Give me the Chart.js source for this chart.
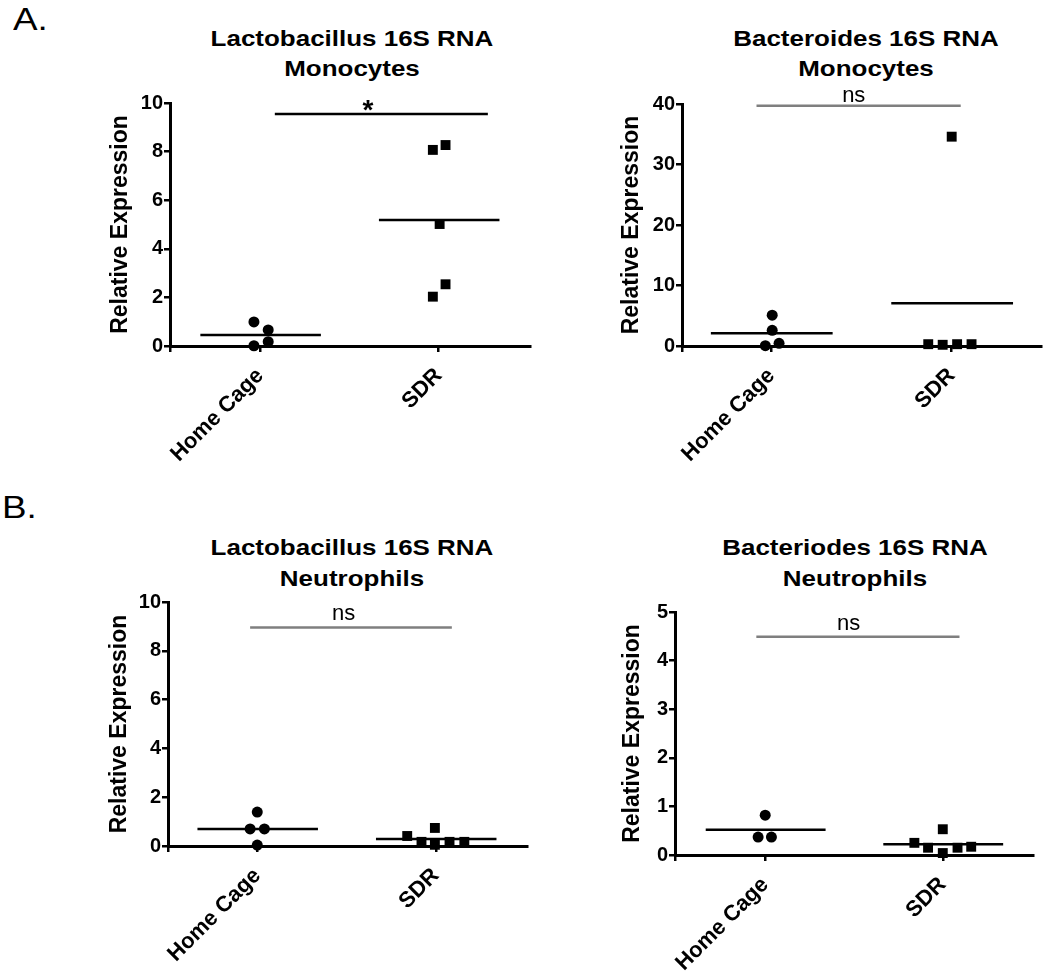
<!DOCTYPE html>
<html>
<head>
<meta charset="utf-8">
<script src="https://cdn.jsdelivr.net/npm/chart.js@4.4.0/dist/chart.umd.min.js"></script>
<style>
  html, body { margin:0; padding:0; background:#fff; width:1050px; height:975px; overflow:hidden;
    font-family:"Liberation Sans", Arial, Helvetica, sans-serif; color:#000; }
  .box { position:absolute; }
  .title { position:absolute; width:400px; text-align:center; font-weight:bold; font-size:22px;
    transform:scaleX(1.18); transform-origin:center top; white-space:nowrap; }
  .tag { position:absolute; font-size:32px; line-height:32px; transform:scaleX(1.15); transform-origin:left top; }
</style>
</head>
<body>
<script>
// ---------------- DATA ----------------
const categories = ['Home Cage', 'SDR'];
const yAxisTitle = 'Relative Expression';
const panelTags = ['A.', 'B.'];

// A (left): Lactobacillus 16S RNA, Monocytes
const lactoMonoTitle = ['Lactobacillus 16S RNA', 'Monocytes'];
const lactoMonoHomeCage = [0.99, 0.66, 0.18, 0.01];
const lactoMonoHomeCageX = [-0.035, 0.045, 0.045, -0.035];
const lactoMonoSDR = [8.07, 8.27, 5.02, 2.54, 2.03];
const lactoMonoSDRX = [0.967, 1.038, 1.005, 1.038, 0.967];
const lactoMonoMeans = [0.45, 5.19];
const lactoMonoYTicks = [0, 2, 4, 6, 8, 10];
const lactoMonoSig = { label: '*', y: 9.55, from: 0.082, to: 1.275, labelX: 0.604 };

// A (right): Bacteroides 16S RNA, Monocytes
const bactMonoTitle = ['Bacteroides 16S RNA', 'Monocytes'];
const bactMonoHomeCage = [5.1, 2.6, 0.05, 0.45];
const bactMonoHomeCageX = [0.005, 0.005, -0.033, 0.043];
const bactMonoSDR = [34.6, 0.3, 0.2, 0.3, 0.3];
const bactMonoSDRX = [1.0, 0.87, 0.95, 1.03, 1.11];
const bactMonoMeans = [2.1, 7.05];
const bactMonoYTicks = [0, 10, 20, 30, 40];
const bactMonoSig = { label: 'ns', y: 39.7, from: -0.082, to: 1.05, labelX: 0.457 };

// B (left): Lactobacillus 16S RNA, Neutrophils
const lactoNeutTitle = ['Lactobacillus 16S RNA', 'Neutrophils'];
const lactoNeutHomeCage = [1.39, 0.7, 0.7, 0.04];
const lactoNeutHomeCageX = [0, -0.04, 0.04, 0];
const lactoNeutSDR = [0.41, 0.17, 0.74, 0.05, 0.17, 0.17];
const lactoNeutSDRX = [0.84, 0.92, 0.995, 0.995, 1.077, 1.16];
const lactoNeutMeans = [0.7, 0.29];
const lactoNeutYTicks = [0, 2, 4, 6, 8, 10];
const lactoNeutSig = { label: 'ns', y: 8.96, from: -0.04, to: 1.09, labelX: 0.484 };

// B (right): Bacteriodes 16S RNA, Neutrophils
const bactNeutTitle = ['Bacteriodes 16S RNA', 'Neutrophils'];
const bactNeutHomeCage = [0.82, 0.37, 0.37];
const bactNeutHomeCageX = [0, -0.04, 0.035];
const bactNeutSDR = [0.25, 0.15, 0.53, 0.04, 0.15, 0.17];
const bactNeutSDRX = [0.84, 0.917, 1.0, 1.0, 1.083, 1.16];
const bactNeutMeans = [0.52, 0.22];
const bactNeutYTicks = [0, 1, 2, 3, 4, 5];
const bactNeutSig = { label: 'ns', y: 4.49, from: -0.05, to: 1.094, labelX: 0.47 };

// ---------------- LAYOUT / STYLE ----------------
const FONT = '"Liberation Sans", Arial, Helvetica, sans-serif';
Chart.defaults.font.family = FONT;
Chart.defaults.color = '#000';
const meanSpan = [[-0.335, 0.34], [0.665, 1.34]];

const panels = [
  { title: lactoMonoTitle, hc: lactoMonoHomeCage, hcX: lactoMonoHomeCageX, sdr: lactoMonoSDR, sdrX: lactoMonoSDRX,
    means: lactoMonoMeans, yTicks: lactoMonoYTicks, sig: lactoMonoSig,
    box: { left:107, top:85, w:430, h:391, pt:18, yw:63, xh:130, xMin:-0.505, xMax:1.511 },
    sigColor:'#000', labelFont:'bold 28px ' + FONT, labelDy:5,
    titlePos: { cx:352, top:24.4, lh:29.3 } },
  { title: bactMonoTitle, hc: bactMonoHomeCage, hcX: bactMonoHomeCageX, sdr: bactMonoSDR, sdrX: bactMonoSDRX,
    means: bactMonoMeans, yTicks: bactMonoYTicks, sig: bactMonoSig,
    box: { left:618, top:85, w:430, h:391, pt:19, yw:64, xh:130, xMin:-0.495, xMax:1.495 },
    sigColor:'#7f7f7f', labelFont:'22px ' + FONT, labelDy:-4,
    titlePos: { cx:866, top:24.4, lh:29.3 } },
  { title: lactoNeutTitle, hc: lactoNeutHomeCage, hcX: lactoNeutHomeCageX, sdr: lactoNeutSDR, sdrX: lactoNeutSDRX,
    means: lactoNeutMeans, yTicks: lactoNeutYTicks, sig: lactoNeutSig,
    box: { left:106, top:585, w:428, h:386, pt:17, yw:62, xh:125, xMin:-0.5, xMax:1.511 },
    sigColor:'#7f7f7f', labelFont:'22px ' + FONT, labelDy:-7,
    titlePos: { cx:352, top:531.5, lh:31.7 } },
  { title: bactNeutTitle, hc: bactNeutHomeCage, hcX: bactNeutHomeCageX, sdr: bactNeutSDR, sdrX: bactNeutSDRX,
    means: bactNeutMeans, yTicks: bactNeutYTicks, sig: bactNeutSig,
    box: { left:619, top:590, w:421, h:383, pt:22, yw:56, xh:118, xMin:-0.508, xMax:1.508 },
    sigColor:'#7f7f7f', labelFont:'22px ' + FONT, labelDy:-7,
    titlePos: { cx:855, top:531.5, lh:31.7 } }
];

const sigLabelPlugin = {
  id: 'sigLabel',
  afterDatasetsDraw(chart, args, opts) {
    if (!opts || !opts.text) return;
    const ctx = chart.ctx, xs = chart.scales.x, ys = chart.scales.y;
    ctx.save();
    ctx.fillStyle = '#000';
    ctx.font = opts.cssFont;
    ctx.textAlign = 'center';
    ctx.textBaseline = 'alphabetic';
    ctx.fillText(opts.text, xs.getPixelForValue(opts.xValue), ys.getPixelForValue(opts.yValue) + opts.dy);
    ctx.restore();
  }
};

function zeroPad(s) { s.paddingLeft = 0; s.paddingRight = 0; s.paddingTop = 0; s.paddingBottom = 0; }

// tags
[[panelTags[0], 13, 3], [panelTags[1], 2, 491]].forEach(([t, l, tp]) => {
  const d = document.createElement('div'); d.className = 'tag'; d.textContent = t;
  d.style.left = l + 'px'; d.style.top = tp + 'px'; document.body.appendChild(d);
});

panels.forEach(p => {
  // title
  const t = document.createElement('div'); t.className = 'title';
  t.style.left = (p.titlePos.cx - 200) + 'px'; t.style.top = p.titlePos.top + 'px';
  t.style.lineHeight = p.titlePos.lh + 'px';
  t.innerHTML = p.title.join('<br>');
  document.body.appendChild(t);

  const b = p.box;
  const div = document.createElement('div'); div.className = 'box';
  div.style.left = b.left + 'px'; div.style.top = b.top + 'px';
  div.style.width = b.w + 'px'; div.style.height = b.h + 'px';
  const canvas = document.createElement('canvas');
  canvas.width = b.w; canvas.height = b.h;
  canvas.style.width = b.w + 'px'; canvas.style.height = b.h + 'px';
  div.appendChild(canvas); document.body.appendChild(div);

  const yMax = p.yTicks[p.yTicks.length - 1];
  const lineDs = (x0, x1, y, color) => ({
    type: 'line', data: [{ x: x0, y: y }, { x: x1, y: y }], borderColor: color, borderWidth: 2.5,
    pointRadius: 0, fill: false, clip: false
  });

  new Chart(canvas, {
    type: 'scatter',
    data: {
      datasets: [
        { label: categories[0], data: p.hc.map((v, i) => ({ x: p.hcX[i], y: v })), pointStyle: 'circle',
          pointRadius: 5.5, backgroundColor: '#000', borderColor: '#000', borderWidth: 0, clip: false },
        { label: categories[1], data: p.sdr.map((v, i) => ({ x: p.sdrX[i], y: v })), pointStyle: 'rect',
          pointRadius: 7, backgroundColor: '#000', borderColor: '#000', borderWidth: 0, clip: false },
        lineDs(meanSpan[0][0], meanSpan[0][1], p.means[0], '#000'),
        lineDs(meanSpan[1][0], meanSpan[1][1], p.means[1], '#000'),
        lineDs(p.sig.from, p.sig.to, p.sig.y, p.sigColor)
      ]
    },
    options: {
      responsive: false, animation: false, events: [], devicePixelRatio: 1,
      layout: { padding: { top: b.pt, left: 0, right: 0, bottom: 0 } },
      plugins: {
        legend: { display: false }, tooltip: { enabled: false }, title: { display: false },
        sigLabel: { text: p.sig.label, xValue: p.sig.labelX, yValue: p.sig.y, dy: p.labelDy, cssFont: p.labelFont }
      },
      scales: {
        x: {
          type: 'linear', min: b.xMin, max: b.xMax,
          afterBuildTicks: s => { s.ticks = [{ value: b.xMin }, { value: 0 }, { value: 1 }]; },
          afterFit: s => { s.height = b.xh; zeroPad(s); },
          ticks: {
            autoSkip: false, minRotation: 45, maxRotation: 45, padding: 11, color: '#000',
            font: { size: 22, weight: 'bold' },
            callback: v => (v === 0 ? categories[0] : (v === 1 ? categories[1] : ''))
          },
          grid: { display: true, drawOnChartArea: false, drawTicks: true, tickLength: 6, color: '#000', lineWidth: 2.5 },
          border: { display: true, color: '#000', width: 3 }
        },
        y: {
          type: 'linear', min: 0, max: yMax,
          afterBuildTicks: s => { s.ticks = p.yTicks.map(v => ({ value: v })); },
          afterFit: s => { s.width = b.yw; zeroPad(s); },
          ticks: { padding: 1, color: '#000', font: { size: 20, weight: 'bold' } },
          grid: { display: true, drawOnChartArea: false, drawTicks: true, tickLength: 6, color: '#000', lineWidth: 2.5 },
          border: { display: true, color: '#000', width: 3 },
          title: { display: true, text: yAxisTitle, color: '#000', padding: 0, font: { size: 23, weight: 'bold' } }
        }
      }
    },
    plugins: [sigLabelPlugin]
  });
});
</script>
</body>
</html>
